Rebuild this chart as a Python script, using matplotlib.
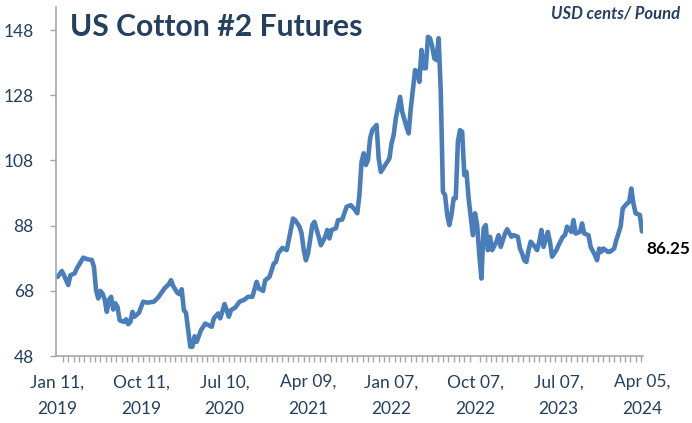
import matplotlib
matplotlib.use('Agg')
import matplotlib.pyplot as plt
import numpy as np

# Недельные котировки, неделя 0 = 11 янв 2019
weeks = [0, 2, 3, 5, 6, 8, 9, 12, 14, 16, 17, 18, 19, 20, 21, 22, 23, 24, 25, 26,
         27, 28, 29, 31, 32, 33, 34, 35, 36, 38, 40, 42, 45, 47, 50, 52, 53, 54, 56, 57,
         58, 59, 60, 61, 62, 63, 64, 65, 67, 69, 72, 73, 75, 76, 78, 79, 80, 81, 83, 85,
         87, 89, 91, 93, 94, 96, 97, 99, 101, 102, 103, 105, 107, 108, 110, 111, 113, 114, 115, 116,
         117, 119, 120, 122, 123, 125, 126, 127, 128, 130, 131, 133, 135, 137, 139, 140, 141, 142, 143, 144,
         145, 146, 147, 149, 150, 151, 154, 155, 156, 157, 158, 160, 161, 163, 164, 165, 167, 168, 169, 170,
         171, 172, 173, 174, 175, 176, 177, 178, 179, 180, 181, 182, 183, 184, 185, 186, 187, 188, 189, 190,
         191, 192, 194, 195, 196, 197, 198, 199, 200, 201, 202, 203, 205, 206, 207, 209, 210, 212, 213, 215,
         216, 217, 218, 219, 220, 221, 223, 224, 225, 226, 227, 229, 230, 231, 233, 234, 236, 237, 238, 240,
         241, 242, 244, 245, 246, 248, 249, 251, 252, 253, 254, 255, 257, 258, 260, 261, 263, 264, 266, 267,
         268, 269, 270, 272, 273]
prices = [72.3, 74.1, 72.8, 69.8, 72.8, 73.4, 74.9, 78.2, 77.7, 77.5, 75.4, 68.2, 65.7, 68.0, 67.2, 65.4, 61.6, 65.2, 66.2, 62.3,
          64.2, 63.1, 59.0, 58.5, 59.3, 57.8, 58.5, 61.6, 60.1, 61.3, 64.7, 64.4, 64.7, 66.0, 68.8, 70.1, 71.3, 69.5, 67.4, 67.0,
          68.5, 62.1, 61.3, 56.0, 50.9, 50.9, 54.1, 52.4, 56.0, 58.0, 57.0, 59.6, 61.1, 59.6, 64.0, 62.1, 60.1, 62.1, 62.9, 64.7,
          65.2, 66.2, 66.2, 70.8, 68.8, 68.0, 71.3, 72.3, 76.4, 76.9, 79.5, 81.2, 80.5, 83.6, 90.2, 89.7, 87.7, 85.6, 80.5, 77.4,
          79.5, 88.2, 89.2, 84.6, 82.0, 84.6, 86.7, 84.1, 86.7, 87.2, 89.7, 89.9, 93.8, 94.3, 92.8, 91.8, 97.4, 107.6, 110.2, 106.6,
          108.1, 114.8, 117.3, 118.9, 108.6, 104.5, 107.6, 108.6, 113.2, 115.8, 120.9, 127.5, 122.9, 118.3, 116.3, 124.0, 135.7, 135.2, 132.1, 141.9,
          136.3, 136.3, 145.9, 145.5, 142.9, 139.3, 138.8, 145.5, 129.1, 98.4, 97.4, 91.3, 88.2, 91.3, 96.4, 96.4, 113.8, 117.3, 116.8, 103.5,
          104.5, 96.4, 85.1, 91.8, 88.2, 79.0, 71.8, 87.2, 88.2, 80.5, 84.6, 80.5, 83.1, 85.1, 81.5, 85.6, 86.9, 84.6, 85.1, 84.6,
          81.0, 79.5, 77.4, 76.9, 80.5, 83.1, 81.5, 80.5, 83.1, 86.7, 81.5, 86.1, 83.1, 78.5, 80.5, 82.0, 84.6, 85.1, 87.7, 86.1,
          89.7, 85.6, 86.1, 88.7, 85.6, 85.1, 81.5, 79.0, 77.4, 81.0, 80.0, 81.0, 80.0, 80.0, 81.0, 83.6, 87.7, 93.3, 94.8, 95.3,
          99.4, 94.8, 91.8, 91.3, 86.25]

label_weeks = [0, 39, 78, 117, 156, 195, 234, 273]
label_text = ['Jan 11,\n2019', 'Oct 11,\n2019', 'Jul 10,\n2020', 'Apr 09,\n2021',
              'Jan 07,\n2022', 'Oct 07,\n2022', 'Jul 07,\n2023', 'Apr 05,\n2024']
yticks = [48, 68, 88, 108, 128, 148]

navy = '#243F60'
line_color = '#4A7EBB'
axis_color = '#A6A6A6'

plt.rcParams['font.family'] = ['Lato', 'DejaVu Sans']

fig = plt.figure(figsize=(6.92, 4.23), dpi=100)
ax = fig.add_axes([0.081, 0.158, 0.848, 0.825])

ax.plot(weeks, prices, color=line_color, lw=3.3, solid_joinstyle='round', solid_capstyle='round')

ax.set_xlim(-0.7, 273.4)
ax.set_ylim(48, 155)

ax.set_yticks(yticks)
ax.set_xticks(label_weeks)
ax.set_xticklabels(label_text)
ax.set_xticks(np.arange(0, 274, 2.5), minor=True)

for s in ['top', 'right']:
    ax.spines[s].set_visible(False)
for s in ['left', 'bottom']:
    ax.spines[s].set_color(axis_color)
    ax.spines[s].set_linewidth(1.2)

ax.tick_params(axis='y', colors=axis_color, labelcolor=navy, labelsize=12.5, length=4, width=1, pad=12)
ax.tick_params(axis='x', which='major', colors=axis_color, labelcolor=navy, labelsize=12.5, length=0, pad=13)
ax.tick_params(axis='x', which='minor', colors=axis_color, length=4, width=1)
for lbl in ax.get_xticklabels():
    lbl.set_linespacing(1.8)

fig.text(0.101, 0.935, 'US Cotton #2 Futures', color=navy, fontsize=21.7, fontweight='bold', va='center', ha='left')
fig.text(0.983, 0.968, 'USD cents/ Pound', color=navy, fontsize=12, fontweight='bold', style='italic', va='center', ha='right')
ax.annotate(f'{prices[-1]:.2f}', xy=(weeks[-1], prices[-1]), xytext=(3, -13), textcoords='offset points',
            fontsize=12.3, fontweight='bold', color='black', va='center', ha='left', annotation_clip=False)

fig.savefig('out.png', dpi=100)
